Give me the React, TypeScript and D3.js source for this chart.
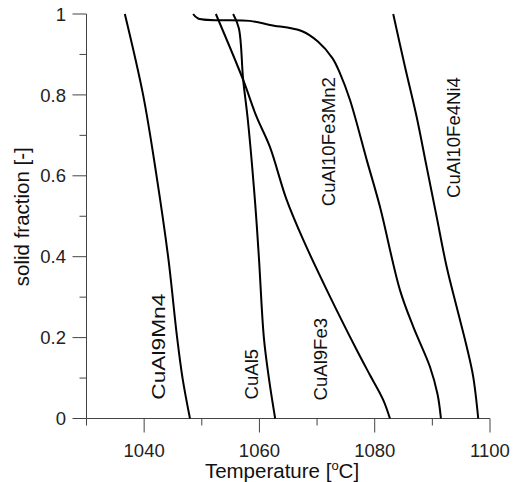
import React from "react";
import * as d3 from "d3";

type Pt = [number, number];

// [temperature °C, solid fraction]
const cuAl9Mn4: Pt[] = [[1036.65, 1], [1039.82, 0.8], [1042.15, 0.6], [1044.16, 0.4], [1045.72, 0.2], [1046.66, 0.1], [1047.95, 0]];
const cuAl5: Pt[] = [[1055.44, 1], [1056.43, 0.965], [1057.18, 0.837], [1057.99, 0.738], [1059.21, 0.541], [1059.9, 0.4], [1060.77, 0.2], [1061.64, 0.1], [1062.73, 0]];
const cuAl9Fe3: Pt[] = [[1052.44, 1], [1057.18, 0.837], [1059.5, 0.746], [1061.8, 0.672], [1064.71, 0.541], [1067.59, 0.442], [1072.22, 0.302], [1076.86, 0.17], [1079.17, 0.1075], [1081.47, 0.046], [1082.64, 0]];
const cuAl10Fe3Mn2: Pt[] = [[1048.5, 1], [1049.37, 0.989], [1058.34, 0.983], [1061.81, 0.973], [1067.31, 0.958], [1070.14, 0.932], [1072.66, 0.891], [1073.96, 0.854], [1075.7, 0.788], [1078.6, 0.64], [1080.9, 0.524], [1084.37, 0.318], [1086.68, 0.227], [1089.58, 0.128], [1090.9, 0.06], [1091.49, 0]];
const cuAl10Fe4Ni4: Pt[] = [[1083.21, 1], [1085.24, 0.87], [1087.27, 0.746], [1089.01, 0.622], [1090.74, 0.499], [1092.48, 0.375], [1094.21, 0.276], [1095.95, 0.178], [1097.09, 0.103], [1097.96, 0]];

const seriesNames = ["CuAl9Mn4", "CuAl5", "CuAl9Fe3", "CuAl10Fe3Mn2", "CuAl10Fe4Ni4"];
const seriesData = [cuAl9Mn4, cuAl5, cuAl9Fe3, cuAl10Fe3Mn2, cuAl10Fe4Ni4];
// label anchor in data coords [T, f]
const labelAnchors: Pt[] = [[1043.59, 0.1775], [1059.78, 0.1095], [1071.65, 0.1466], [1073.09, 0.6843], [1094.79, 0.6947]];

const xMajorTicks = [1040, 1060, 1080, 1100];
const xMinorTicks = [1030, 1050, 1070, 1090];
const yMajorTicks = [0, 0.2, 0.4, 0.6, 0.8, 1];
const yMinorTicks = [0.1, 0.3, 0.5, 0.7, 0.9];
const yTickLabels = ["0", "0.2", "0.4", "0.6", "0.8", "1"];

const W = 515;
const H = 482;
const FONT = "'Liberation Sans', Arial, Helvetica, sans-serif";

export default function App() {
  const x = d3.scaleLinear().domain([1030, 1100]).range([86.5, 490]);
  const y = d3.scaleLinear().domain([0, 1]).range([418.5, 14]);
  const line = d3
    .line<Pt>()
    .x((d) => x(d[0]))
    .y((d) => y(d[1]))
    .curve(d3.curveCatmullRom.alpha(0.5));
  const axisColor = "#444";

  return (
    <svg width={W} height={H} style={{ position: "absolute", left: 0, top: 0, background: "#fff" }} fontFamily={FONT}>
      {/* axes */}
      <line x1={x(1030)} x2={x(1030)} y1={y(1)} y2={y(0)} stroke={axisColor} strokeWidth={1} />
      <line x1={x(1030)} x2={x(1100)} y1={y(0)} y2={y(0)} stroke={axisColor} strokeWidth={1} />
      {xMajorTicks.map((t) => (
        <g key={"xm" + t}>
          <line x1={x(t)} x2={x(t)} y1={y(0)} y2={y(0) + 14} stroke={axisColor} strokeWidth={1} />
          <text x={x(t)} y={456.5} textAnchor="middle" fontSize={18.5} fill="#222">{t}</text>
        </g>
      ))}
      {xMinorTicks.map((t) => (
        <line key={"xn" + t} x1={x(t)} x2={x(t)} y1={y(0)} y2={y(0) + 7} stroke={axisColor} strokeWidth={1} />
      ))}
      {yMajorTicks.map((t, i) => (
        <g key={"ym" + t}>
          <line x1={x(1030) - 14} x2={x(1030)} y1={y(t)} y2={y(t)} stroke={axisColor} strokeWidth={1} />
          <text x={66} y={y(t)} dy="0.36em" textAnchor="end" fontSize={18.5} fill="#222">{yTickLabels[i]}</text>
        </g>
      ))}
      {yMinorTicks.map((t) => (
        <line key={"yn" + t} x1={x(1030) - 7} x2={x(1030)} y1={y(t)} y2={y(t)} stroke={axisColor} strokeWidth={1} />
      ))}

      {/* curves */}
      {seriesData.map((d, i) => (
        <path key={seriesNames[i]} d={line(d) || ""} fill="none" stroke="#000" strokeWidth={2} />
      ))}

      {/* curve labels */}
      {seriesNames.map((n, i) => {
        const [tx, ty] = labelAnchors[i];
        return (
          <text
            key={"l" + n}
            transform={`translate(${x(tx)},${y(ty)}) rotate(-90)`}
            textAnchor="middle"
            fontSize={18.6}
            fill="#111"
            {...(n === "CuAl9Mn4" ? { textLength: 106, lengthAdjust: "spacingAndGlyphs" } : {})}
          >
            {n}
          </text>
        );
      })}

      {/* axis titles */}
      <text x={282} y={478} textAnchor="middle" fontSize={20.5} fill="#111">
        Temperature [<tspan fontSize={13} dy={-8}>o</tspan><tspan dy={8}>C]</tspan>
      </text>
      <text transform="translate(28.5,216.7) rotate(-90)" textAnchor="middle" fontSize={20.5} fill="#111">
        solid fraction [-]
      </text>
    </svg>
  );
}
